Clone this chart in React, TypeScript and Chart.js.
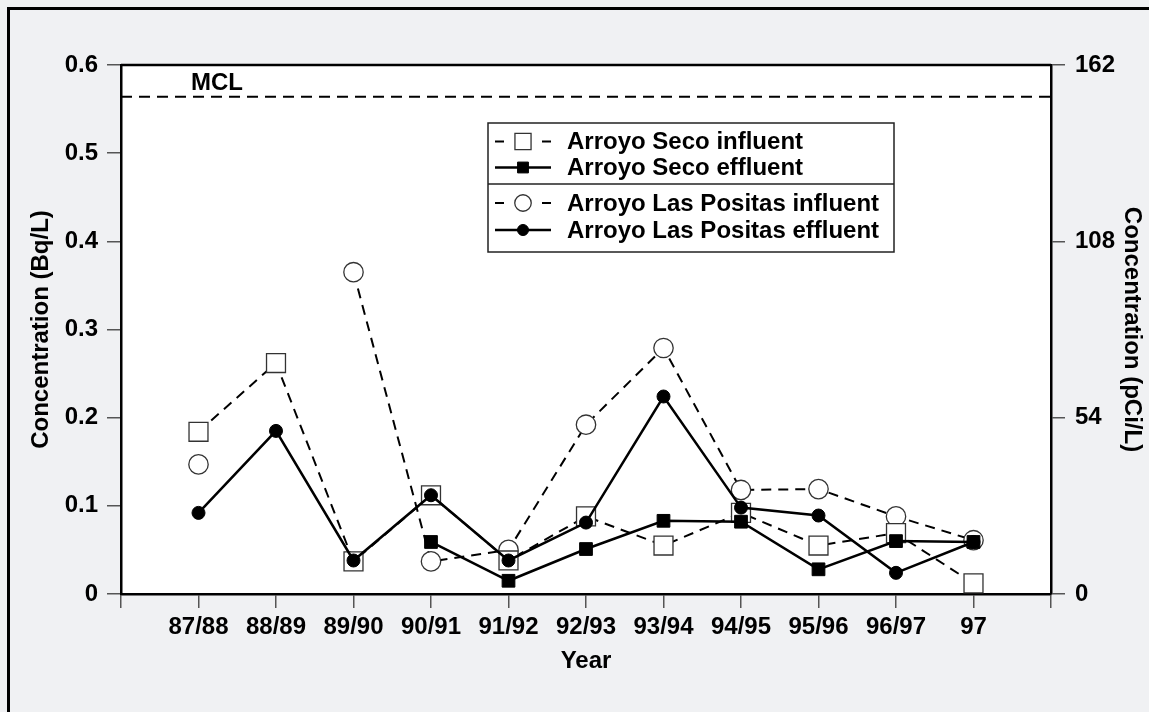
import React, { useEffect, useRef } from 'react';
import { Chart, registerables } from 'chart.js';

Chart.register(...registerables);

// ---------- data ----------
const categories = ['87/88', '88/89', '89/90', '90/91', '91/92', '92/93', '93/94', '94/95', '95/96', '96/97', '97'];
const seriesNames = ['Arroyo Seco influent', 'Arroyo Seco effluent', 'Arroyo Las Positas influent', 'Arroyo Las Positas effluent'];
const secoInfluent = [0.184, 0.262, 0.037, 0.112, 0.038, 0.088, 0.055, 0.092, 0.055, 0.069, 0.012];
const secoEffluent = [null, null, null, 0.059, 0.015, 0.051, 0.083, 0.082, 0.028, 0.060, 0.059];
const positasInfluent = [0.147, null, 0.365, 0.037, 0.050, 0.192, 0.279, 0.118, 0.119, 0.088, 0.061];
const positasEffluent = [0.092, 0.185, 0.038, 0.112, 0.038, 0.081, 0.224, 0.098, 0.089, 0.024, 0.059];
const leftTicks = [0, 0.1, 0.2, 0.3, 0.4, 0.5, 0.6];
const leftTickLabels = ['0', '0.1', '0.2', '0.3', '0.4', '0.5', '0.6'];
const rightTicks = [0, 54, 108, 162];
const rightTickLabels = ['0', '54', '108', '162'];
const mclValue = 0.564;
const mclLabel = 'MCL';
const xTitle = 'Year';
const leftTitle = 'Concentration (Bq/L)';
const rightTitle = 'Concentration (pCi/L)';

// ---------- styles ----------
const FONT = "'Liberation Sans', Arial, Helvetica, sans-serif";
const FS = 24;
const BG = '#f0f1f3';

const toPoints = (arr: (number | null)[]) => arr.map((v, i) => ({ x: i, y: v }));

const figurePlugin = {
  id: 'figure',
  beforeDraw(chart: any) {
    const { ctx, chartArea: ca, width, height } = chart;
    ctx.save();
    ctx.fillStyle = BG;
    ctx.fillRect(0, 0, width, height);
    ctx.fillStyle = '#ffffff';
    ctx.fillRect(ca.left, ca.top, ca.right - ca.left, ca.bottom - ca.top);
    ctx.strokeStyle = '#000';
    ctx.lineWidth = 3;
    ctx.strokeRect(8.5, 8.5, width + 40, height + 40);
    ctx.restore();
  },
  beforeDatasetsDraw(chart: any) {
    const { ctx, chartArea: ca } = chart;
    const y = chart.scales.y.getPixelForValue(mclValue);
    ctx.save();
    // top frame line of plot
    ctx.strokeStyle = '#000';
    ctx.lineWidth = 2.5;
    ctx.beginPath();
    ctx.moveTo(ca.left, ca.top);
    ctx.lineTo(ca.right, ca.top);
    ctx.stroke();
    // MCL line
    ctx.lineWidth = 2;
    ctx.setLineDash([11, 7]);
    ctx.beginPath();
    ctx.moveTo(ca.left, y);
    ctx.lineTo(ca.right, y);
    ctx.stroke();
    ctx.setLineDash([]);
    ctx.fillStyle = '#000';
    ctx.font = `bold ${FS}px ${FONT}`;
    ctx.textAlign = 'left';
    ctx.textBaseline = 'alphabetic';
    ctx.fillText(mclLabel, ca.left + 70, y - 7);
    ctx.restore();
  },
  afterDatasetsDraw(chart: any) {
    const { ctx, chartArea: ca } = chart;
    const bx = ca.left + 367;
    const by = ca.top + 58;
    const bw = 406;
    const bh = 129;
    ctx.save();
    ctx.fillStyle = '#fff';
    ctx.fillRect(bx, by, bw, bh);
    ctx.strokeStyle = '#222';
    ctx.lineWidth = 1.5;
    ctx.strokeRect(bx, by, bw, bh);
    ctx.beginPath();
    ctx.moveTo(bx, by + 61);
    ctx.lineTo(bx + bw, by + 61);
    ctx.stroke();
    const rows = [18.5, 44.5, 80, 107];
    chart.data.datasets.forEach((ds: any, i: number) => {
      const cy = by + rows[i];
      const x0 = bx + 7;
      const x1 = bx + 63;
      const cx = bx + 35;
      ctx.strokeStyle = '#000';
      ctx.lineWidth = ds.borderWidth;
      ctx.beginPath();
      if (ds.borderDash && ds.borderDash.length) {
        ctx.moveTo(x0, cy);
        ctx.lineTo(x0 + 9, cy);
        ctx.moveTo(x1 - 9, cy);
        ctx.lineTo(x1, cy);
      } else {
        ctx.moveTo(x0, cy);
        ctx.lineTo(x1, cy);
      }
      ctx.stroke();
      const r = ds.pointRadius * 0.85;
      ctx.fillStyle = ds.pointBackgroundColor;
      ctx.strokeStyle = ds.pointBorderColor;
      ctx.lineWidth = ds.pointBorderWidth;
      ctx.beginPath();
      if (ds.pointStyle === 'rect') {
        const s = Math.SQRT1_2 * r;
        ctx.rect(cx - s, cy - s, 2 * s, 2 * s);
      } else {
        ctx.arc(cx, cy, r, 0, Math.PI * 2);
      }
      ctx.fill();
      ctx.stroke();
      ctx.fillStyle = '#000';
      ctx.font = `bold ${FS}px ${FONT}`;
      ctx.textAlign = 'left';
      ctx.textBaseline = 'middle';
      ctx.fillText(ds.label, bx + 79, cy + 1);
    });
    ctx.restore();
  },
};

export default function App() {
  const canvasRef = useRef<HTMLCanvasElement | null>(null);

  useEffect(() => {
    document.body.style.margin = '0';
    document.body.style.background = BG;
    const canvas = canvasRef.current;
    if (!canvas) return;

    const tickFont = { family: FONT, size: FS, weight: 'bold' as const };
    const gridCommon = {
      drawOnChartArea: false,
      drawTicks: true,
      tickLength: 14,
      color: '#555',
      lineWidth: 1.5,
    };

    const chart = new Chart(canvas, {
      type: 'line',
      data: {
        datasets: [
          {
            label: seriesNames[0],
            data: toPoints(secoInfluent),
            borderColor: '#000',
            borderWidth: 2,
            borderDash: [10, 7],
            pointStyle: 'rect',
            pointRadius: 13.4,
            pointBackgroundColor: '#fff',
            pointBorderColor: '#333',
            pointBorderWidth: 1.3,
            fill: false,
            tension: 0,
            spanGaps: false,
            order: 3,
          },
          {
            label: seriesNames[1],
            data: toPoints(secoEffluent),
            borderColor: '#000',
            borderWidth: 2.5,
            borderDash: [],
            pointStyle: 'rect',
            pointRadius: 9,
            pointBackgroundColor: '#000',
            pointBorderColor: '#000',
            pointBorderWidth: 1,
            fill: false,
            tension: 0,
            spanGaps: false,
            order: 2,
          },
          {
            label: seriesNames[2],
            data: toPoints(positasInfluent),
            borderColor: '#000',
            borderWidth: 2,
            borderDash: [10, 7],
            pointStyle: 'circle',
            pointRadius: 9.7,
            pointBackgroundColor: '#fff',
            pointBorderColor: '#333',
            pointBorderWidth: 1.3,
            fill: false,
            tension: 0,
            spanGaps: false,
            order: 4,
          },
          {
            label: seriesNames[3],
            data: toPoints(positasEffluent),
            borderColor: '#000',
            borderWidth: 2.5,
            borderDash: [],
            pointStyle: 'circle',
            pointRadius: 6.5,
            pointBackgroundColor: '#000',
            pointBorderColor: '#000',
            pointBorderWidth: 1,
            fill: false,
            tension: 0,
            spanGaps: false,
            order: 1,
          },
        ] as any,
      },
      options: {
        responsive: false,
        animation: false,
        devicePixelRatio: 1,
        events: [],
        layout: { padding: { left: 0, right: 0, top: 65, bottom: 0 } },
        plugins: {
          legend: { display: false },
          tooltip: { enabled: false },
          title: { display: false },
        },
        scales: {
          x: {
            type: 'linear',
            position: 'bottom',
            min: -1,
            max: 11,
            afterBuildTicks: (scale: any) => {
              const t = [];
              for (let v = -1; v <= 11; v++) t.push({ value: v });
              scale.ticks = t;
            },
            afterFit: (scale: any) => {
              scale.height = 118;
            },
            ticks: {
              autoSkip: false,
              maxRotation: 0,
              padding: 5,
              color: '#000',
              font: tickFont,
              callback: (v: any) => {
                const i = Math.round(Number(v));
                return i >= 0 && i < categories.length ? categories[i] : '';
              },
            },
            grid: gridCommon,
            border: { display: true, color: '#000', width: 2.5 },
            title: {
              display: true,
              text: xTitle,
              color: '#000',
              font: tickFont,
              padding: { top: 0, bottom: 36 },
            },
          },
          y: {
            type: 'linear',
            position: 'left',
            min: 0,
            max: 0.6,
            afterBuildTicks: (scale: any) => {
              scale.ticks = leftTicks.map((v) => ({ value: v }));
            },
            afterFit: (scale: any) => {
              scale.width = 121;
            },
            ticks: {
              padding: 9,
              color: '#000',
              font: tickFont,
              callback: (v: any) => {
                const idx = leftTicks.findIndex((t) => Math.abs(t - Number(v)) < 1e-9);
                return idx >= 0 ? leftTickLabels[idx] : '';
              },
            },
            grid: gridCommon,
            border: { display: true, color: '#000', width: 2.5 },
            title: {
              display: true,
              text: leftTitle,
              color: '#000',
              font: tickFont,
              padding: { top: 27, bottom: 0 },
            },
          },
          y2: {
            type: 'linear',
            position: 'right',
            min: 0,
            max: 162,
            afterBuildTicks: (scale: any) => {
              scale.ticks = rightTicks.map((v) => ({ value: v }));
            },
            afterFit: (scale: any) => {
              scale.width = 98;
            },
            ticks: {
              padding: 10,
              color: '#000',
              font: tickFont,
              callback: (v: any) => {
                const idx = rightTicks.findIndex((t) => Math.abs(t - Number(v)) < 1e-9);
                return idx >= 0 ? rightTickLabels[idx] : '';
              },
            },
            grid: gridCommon,
            border: { display: true, color: '#000', width: 2.5 },
            title: {
              display: true,
              text: rightTitle,
              color: '#000',
              font: tickFont,
              padding: { top: 3, bottom: 0 },
            },
          },
        },
      } as any,
      plugins: [figurePlugin],
    });

    return () => {
      chart.destroy();
    };
  }, []);

  return (
    <div style={{ width: 1149, height: 712, overflow: 'hidden', position: 'relative', background: BG }}>
      <canvas ref={canvasRef} width={1149} height={712} style={{ width: 1149, height: 712, display: 'block' }} />
    </div>
  );
}
